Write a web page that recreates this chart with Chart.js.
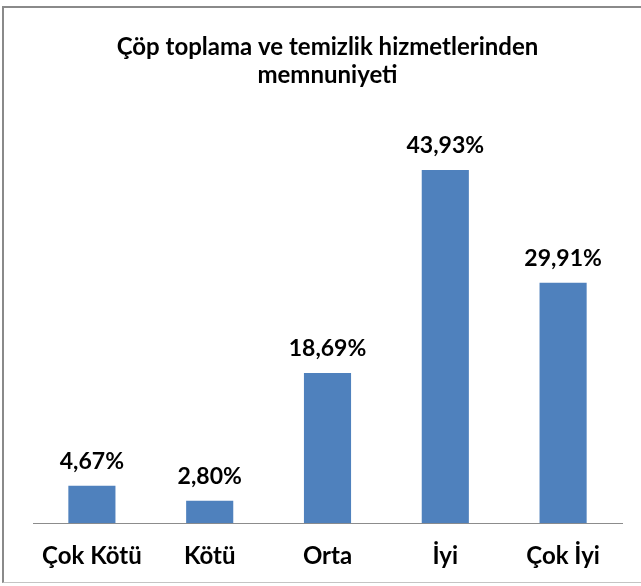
<!DOCTYPE html>
<html lang="tr">
<head>
    <meta charset="UTF-8" />
    <title>Çöp toplama ve temizlik hizmetlerinden memnuniyeti</title>
    <style>
        body {
            margin: 0;
            padding: 0;
            background: #fff;
        }
        .frame {
            position: absolute;
            left: 2px;
            top: 6px;
            width: 639px;
            height: 577px;
            border-top: 2px solid #8a8a8a;
            border-left: 2px solid #8a8a8a;
            border-bottom: 1px solid #c4c4c4;
            box-sizing: border-box;
        }
        .chart-box {
            position: absolute;
            left: 2px;
            top: 2px;
            width: 637px;
            height: 575px;
        }
    </style>
    <script src="https://cdn.jsdelivr.net/npm/chart.js"></script>
</head>
<body>
    <div class="frame">
        <div class="chart-box">
            <canvas id="chart"></canvas>
        </div>
    </div>
    <script>
        // values
        const categories = ["Çok Kötü", "Kötü", "Orta", "İyi", "Çok İyi"];
        const percentages = [4.67, 2.80, 18.69, 43.93, 29.91];
        const titleLines = ["Çöp toplama ve temizlik hizmetlerinden", "memnuniyeti"];

        const barColor = "#4f81bd";
        const fontFamily = "Lato, 'Liberation Sans', Arial, sans-serif";

        // draws "43,93%" style labels above each bar
        const valueLabels = {
            id: "valueLabels",
            afterDatasetsDraw(chart) {
                const ctx = chart.ctx;
                const meta = chart.getDatasetMeta(0);
                ctx.save();
                ctx.font = "bold 23px " + fontFamily;
                ctx.fillStyle = "#000";
                ctx.textAlign = "center";
                ctx.textBaseline = "alphabetic";
                meta.data.forEach((bar, i) => {
                    const text = percentages[i].toFixed(2).replace(".", ",") + "%";
                    ctx.fillText(text, bar.x, bar.y - 17);
                });
                ctx.restore();
            },
        };

        new Chart(document.getElementById("chart"), {
            type: "bar",
            data: {
                labels: categories,
                datasets: [
                    {
                        data: percentages,
                        backgroundColor: barColor,
                        borderWidth: 0,
                        categoryPercentage: 1,
                        barPercentage: 0.4,
                    },
                ],
            },
            options: {
                responsive: true,
                maintainAspectRatio: false,
                animation: false,
                layout: {
                    padding: { left: 27, right: 21, top: 0, bottom: -5 },
                },
                plugins: {
                    legend: { display: false },
                    tooltip: { enabled: false },
                    title: {
                        display: true,
                        text: titleLines,
                        color: "#000",
                        font: { family: fontFamily, size: 24, weight: "bold", lineHeight: 1.17 },
                        padding: { top: 23, bottom: 32 },
                    },
                },
                scales: {
                    x: {
                        grid: { display: false, drawTicks: false },
                        border: { display: true, color: "#8c8c8c", width: 1 },
                        ticks: {
                            color: "#000",
                            padding: 19,
                            font: { family: fontFamily, size: 24, weight: "bold" },
                        },
                    },
                    y: {
                        display: false,
                        min: 0,
                        max: 50,
                    },
                },
            },
            plugins: [valueLabels],
        });
    </script>
</body>
</html>
